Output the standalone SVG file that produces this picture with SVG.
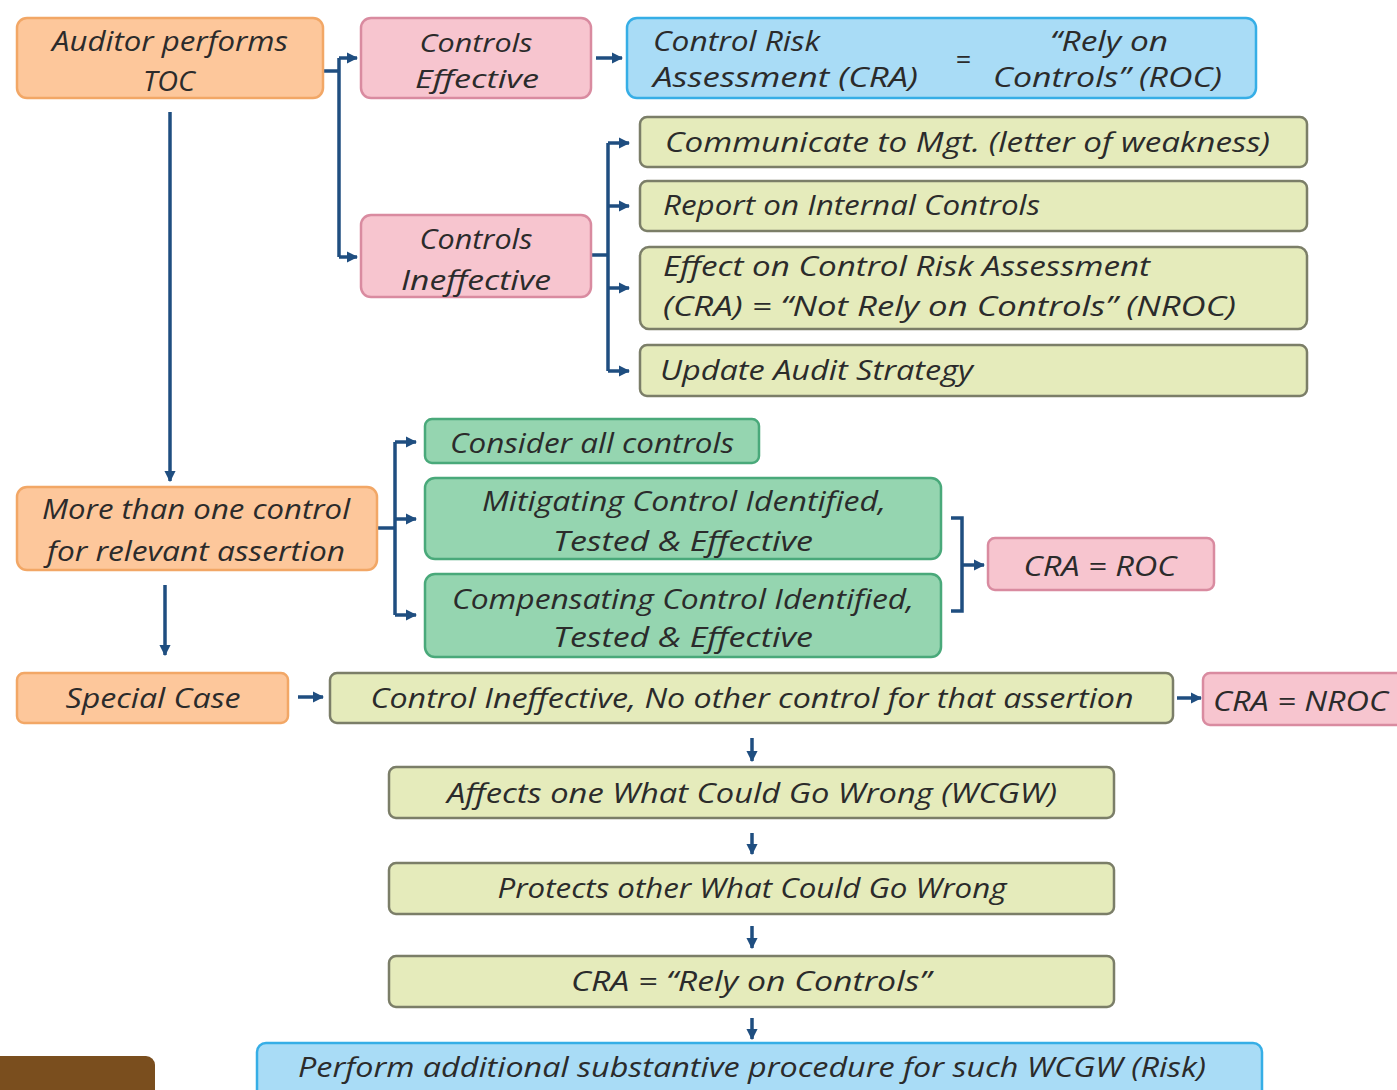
<svg xmlns="http://www.w3.org/2000/svg" width="1397" height="1090" viewBox="0 0 1397 1090">
  <defs>
    <marker id="ah" viewBox="0 0 10 10" refX="9" refY="5" markerWidth="3.2" markerHeight="3.2" orient="auto" markerUnits="strokeWidth">
      <path d="M0,0 L10,5 L0,10 z" fill="#1f4e80"/>
    </marker>
    <style>
      .box { stroke-width: 2.5; }
      .orange { fill: #fdc79b; stroke: #f2a766; }
      .pink { fill: #f7c5cf; stroke: #d98ba0; }
      .blue { fill: #a9dcf6; stroke: #36aee6; }
      .lime { fill: #e5ebbb; stroke: #7b7e68; }
      .green { fill: #95d5b0; stroke: #49a97a; }
      text { font-family: "Open Sans", "Liberation Sans", sans-serif; font-style: italic; font-size: 27px; fill: #2b2b2b; dominant-baseline: central; }
      .c { text-anchor: middle; }
      .sm { font-size: 25px; }
      .conn path { fill: none; stroke: #1f4e80; stroke-width: 3.5; }
    </style>
  </defs>
  <rect width="1397" height="1090" fill="#ffffff"/>

  <!-- connectors -->
  <g class="conn">
    <!-- TOC -> effective / ineffective -->
    <path d="M324,71 H339"/>
    <path d="M339,58 V257"/>
    <path d="M339,58 H357" marker-end="url(#ah)"/>
    <path d="M339,257 H357" marker-end="url(#ah)"/>
    <!-- effective -> CRA -->
    <path d="M596,58 H622" marker-end="url(#ah)"/>
    <!-- ineffective -> consequences -->
    <path d="M592,255 H608"/>
    <path d="M608,143 V371"/>
    <path d="M608,143 H629" marker-end="url(#ah)"/>
    <path d="M608,206 H629" marker-end="url(#ah)"/>
    <path d="M608,288 H629" marker-end="url(#ah)"/>
    <path d="M608,371 H629" marker-end="url(#ah)"/>
    <!-- TOC -> more than one control -->
    <path d="M170,112 V481" marker-end="url(#ah)"/>
    <!-- more than one control -> options -->
    <path d="M377,528 H395"/>
    <path d="M395,442 V615"/>
    <path d="M395,442 H416" marker-end="url(#ah)"/>
    <path d="M395,519 H416" marker-end="url(#ah)"/>
    <path d="M395,615 H416" marker-end="url(#ah)"/>
    <!-- mitigating / compensating -> CRA = ROC -->
    <path d="M951,518 H962 V611 H951"/>
    <path d="M962,565 H984" marker-end="url(#ah)"/>
    <!-- more than one -> special case -->
    <path d="M165,585 V655" marker-end="url(#ah)"/>
    <!-- special case chain -->
    <path d="M298,697 H323" marker-end="url(#ah)"/>
    <path d="M1177,698 H1201" marker-end="url(#ah)"/>
    <path d="M752,738 V761" marker-end="url(#ah)"/>
    <path d="M752,833 V854" marker-end="url(#ah)"/>
    <path d="M752,926 V948" marker-end="url(#ah)"/>
    <path d="M752,1018 V1039" marker-end="url(#ah)"/>
  </g>

  <g id="toc">
    <rect class="box orange" x="17" y="18" width="306" height="80" rx="10"/>
    <text class="c" x="170" y="40" textLength="236" lengthAdjust="spacingAndGlyphs">Auditor performs</text>
    <text class="c" x="169" y="80" textLength="52" lengthAdjust="spacingAndGlyphs">TOC</text>
  </g>

  <g id="controls-effective">
    <rect class="box pink" x="361" y="18" width="230" height="80" rx="10"/>
    <text class="c sm" x="476" y="42" textLength="113" lengthAdjust="spacingAndGlyphs">Controls</text>
    <text class="c sm" x="477" y="78" textLength="124" lengthAdjust="spacingAndGlyphs">Effective</text>
  </g>

  <g id="cra-roc-top">
    <rect class="box blue" x="627" y="18" width="629" height="80" rx="10"/>
    <text x="653" y="40" textLength="167" lengthAdjust="spacingAndGlyphs">Control Risk</text>
    <text x="653" y="76" textLength="265" lengthAdjust="spacingAndGlyphs">Assessment (CRA)</text>
    <text class="c" x="963" y="58">=</text>
    <text x="1050" y="40" textLength="118" lengthAdjust="spacingAndGlyphs">“Rely on</text>
    <text x="993" y="76" textLength="229" lengthAdjust="spacingAndGlyphs">Controls” (ROC)</text>
  </g>

  <g id="controls-ineffective">
    <rect class="box pink" x="361" y="215" width="230" height="82" rx="10"/>
    <text class="c" x="476" y="238" textLength="113" lengthAdjust="spacingAndGlyphs">Controls</text>
    <text class="c" x="476" y="279" textLength="150" lengthAdjust="spacingAndGlyphs">Ineffective</text>
  </g>

  <g id="communicate">
    <rect class="box lime" x="640" y="117" width="667" height="50" rx="7"/>
    <text x="665" y="141" textLength="605" lengthAdjust="spacingAndGlyphs">Communicate to Mgt. (letter of weakness)</text>
  </g>

  <g id="report">
    <rect class="box lime" x="640" y="181" width="667" height="50" rx="7"/>
    <text x="663" y="204" textLength="377" lengthAdjust="spacingAndGlyphs">Report on Internal Controls</text>
  </g>

  <g id="effect-cra">
    <rect class="box lime" x="640" y="247" width="667" height="82" rx="9"/>
    <text x="663" y="265" textLength="487" lengthAdjust="spacingAndGlyphs">Effect on Control Risk Assessment</text>
    <text x="663" y="305" textLength="573" lengthAdjust="spacingAndGlyphs">(CRA) = “Not Rely on Controls” (NROC)</text>
  </g>

  <g id="update-strategy">
    <rect class="box lime" x="640" y="345" width="667" height="51" rx="7"/>
    <text x="660" y="369" textLength="313" lengthAdjust="spacingAndGlyphs">Update Audit Strategy</text>
  </g>

  <g id="consider-all">
    <rect class="box green" x="425" y="419" width="334" height="44" rx="7"/>
    <text x="450" y="442" textLength="284" lengthAdjust="spacingAndGlyphs">Consider all controls</text>
  </g>

  <g id="mitigating">
    <rect class="box green" x="425" y="478" width="516" height="81" rx="10"/>
    <text class="c" x="684" y="500" textLength="404" lengthAdjust="spacingAndGlyphs">Mitigating Control Identified,</text>
    <text class="c" x="683" y="540" textLength="260" lengthAdjust="spacingAndGlyphs">Tested &amp; Effective</text>
  </g>

  <g id="compensating">
    <rect class="box green" x="425" y="574" width="516" height="83" rx="10"/>
    <text class="c" x="683" y="598" textLength="462" lengthAdjust="spacingAndGlyphs">Compensating Control Identified,</text>
    <text class="c" x="683" y="636" textLength="260" lengthAdjust="spacingAndGlyphs">Tested &amp; Effective</text>
  </g>

  <g id="cra-roc">
    <rect class="box pink" x="988" y="538" width="226" height="52" rx="7"/>
    <text class="c" x="1100" y="565" textLength="153" lengthAdjust="spacingAndGlyphs">CRA = ROC</text>
  </g>

  <g id="more-than-one">
    <rect class="box orange" x="17" y="487" width="360" height="83" rx="10"/>
    <text class="c" x="196" y="508" textLength="308" lengthAdjust="spacingAndGlyphs">More than one control</text>
    <text class="c" x="196" y="550" textLength="298" lengthAdjust="spacingAndGlyphs">for relevant assertion</text>
  </g>

  <g id="special-case">
    <rect class="box orange" x="17" y="673" width="271" height="50" rx="7"/>
    <text class="c" x="153" y="697" textLength="175" lengthAdjust="spacingAndGlyphs">Special Case</text>
  </g>

  <g id="control-ineffective-no-other">
    <rect class="box lime" x="330" y="673" width="843" height="50" rx="7"/>
    <text class="c" x="752" y="697" textLength="763" lengthAdjust="spacingAndGlyphs">Control Ineffective, No other control for that assertion</text>
  </g>

  <g id="cra-nroc">
    <rect class="box pink" x="1203" y="673" width="210" height="52" rx="7"/>
    <text x="1213" y="700" textLength="175" lengthAdjust="spacingAndGlyphs">CRA = NROC</text>
  </g>

  <g id="affects-one">
    <rect class="box lime" x="389" y="767" width="725" height="51" rx="7"/>
    <text class="c" x="752" y="792" textLength="610" lengthAdjust="spacingAndGlyphs">Affects one What Could Go Wrong (WCGW)</text>
  </g>

  <g id="protects-other">
    <rect class="box lime" x="389" y="863" width="725" height="51" rx="7"/>
    <text class="c" x="752" y="887" textLength="509" lengthAdjust="spacingAndGlyphs">Protects other What Could Go Wrong</text>
  </g>

  <g id="cra-rely">
    <rect class="box lime" x="389" y="956" width="725" height="51" rx="7"/>
    <text class="c" x="751" y="980" textLength="360" lengthAdjust="spacingAndGlyphs">CRA = “Rely on Controls”</text>
  </g>

  <g id="perform-additional">
    <rect class="box blue" x="257" y="1043" width="1005" height="70" rx="9"/>
    <text class="c" x="752" y="1066" textLength="908" lengthAdjust="spacingAndGlyphs">Perform additional substantive procedure for such WCGW (Risk)</text>
  </g>

  <!-- corner tab, bottom left -->
  <rect x="-12" y="1056" width="167" height="60" rx="9" fill="#7a4e1e"/>
</svg>
